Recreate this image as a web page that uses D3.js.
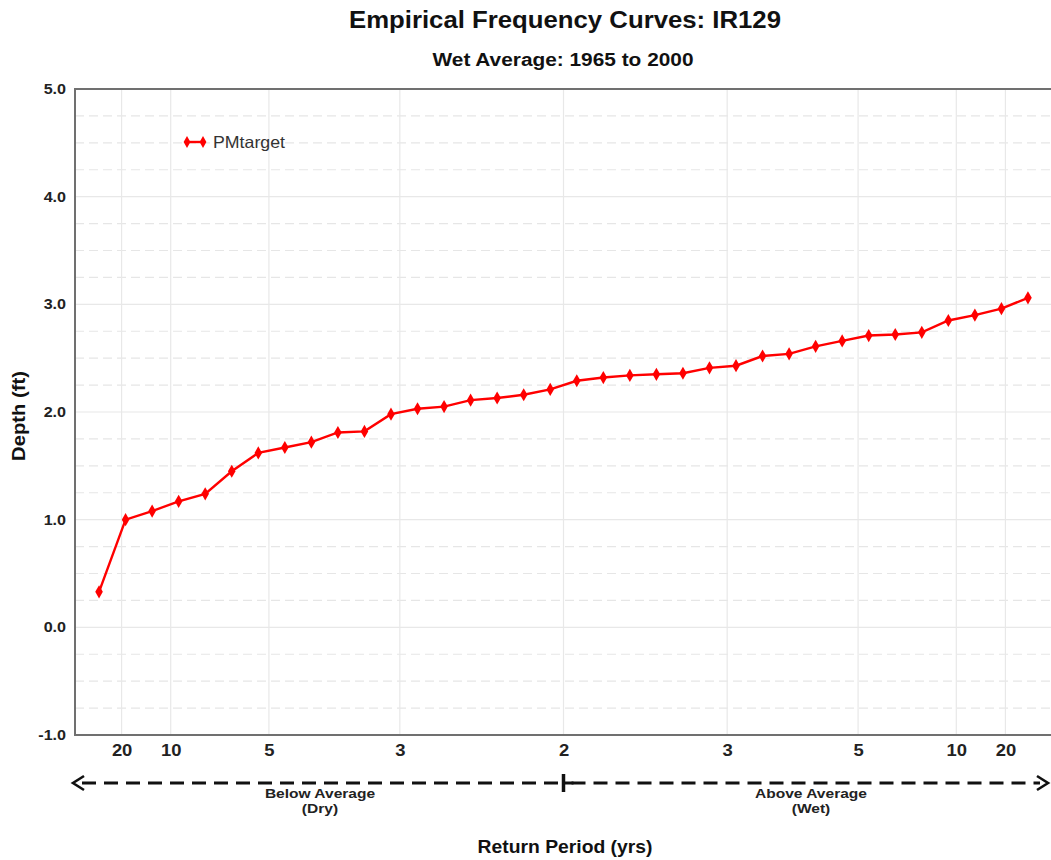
<!DOCTYPE html>
<html>
<head>
<meta charset="utf-8">
<script src="https://cdn.jsdelivr.net/npm/d3@7"></script>
<style>
  html, body { margin: 0; padding: 0; background: #fff; }
  svg { display: block; font-family: "Liberation Sans", Arial, sans-serif; }
</style>
</head>
<body>
<svg id="chart" width="1051" height="860"></svg>
<script>
// ---- data ----
const seriesName = "PMtarget";
const depthValues = [0.33, 1.00, 1.08, 1.17, 1.24, 1.45, 1.62, 1.67, 1.72, 1.81, 1.82, 1.98,
  2.03, 2.05, 2.11, 2.13, 2.16, 2.21, 2.29, 2.32, 2.34, 2.35, 2.36, 2.41,
  2.43, 2.52, 2.54, 2.61, 2.66, 2.71, 2.72, 2.74, 2.85, 2.90, 2.96, 3.06];
const returnTickProbs = [0.05, 0.10, 0.20, 1/3, 0.5, 2/3, 0.80, 0.90, 0.95];
const returnTickLabels = ["20", "10", "5", "3", "2", "3", "5", "10", "20"];
const yTicks = [-1, 0, 1, 2, 3, 4, 5];
const yMinorTicks = d3.range(-1, 5.001, 0.25);
const titleText = "Empirical Frequency Curves: IR129";
const subtitleText = "Wet Average: 1965 to 2000";
const yLabelText = "Depth (ft)";
const xLabelText = "Return Period (yrs)";
const dryText = ["Below Average", "(Dry)"];
const wetText = ["Above Average", "(Wet)"];

// ---- layout ----
const svg = d3.select("#chart");
const plotLeft = 75, plotTop = 89, plotBottom = 735, plotRight = 1060;
const n = depthValues.length;
const x = d3.scaleLinear().domain([0, 1]).range([72.5, 1054.5]);
const y = d3.scaleLinear().domain([-1, 5]).range([plotBottom, plotTop]);
const pos = i => (i + 1) / (n + 1);

// horizontally widen text glyphs (reference font renders wider than Arial)
function widen(sel, k) {
  sel.each(function () {
    const w = this.getComputedTextLength();
    d3.select(this).attr("textLength", w * k).attr("lengthAdjust", "spacingAndGlyphs");
  });
  return sel;
}

// grid
const grid = svg.append("g");
grid.selectAll(".minor").data(yMinorTicks.filter(v => Math.abs(v - Math.round(v)) > 1e-6))
  .enter().append("line")
  .attr("x1", plotLeft).attr("x2", plotRight)
  .attr("y1", d => y(d)).attr("y2", d => y(d))
  .attr("stroke", "#e6e6e6").attr("stroke-width", 1.2).attr("stroke-dasharray", "9,5");
grid.selectAll(".major").data(yTicks)
  .enter().append("line")
  .attr("x1", plotLeft).attr("x2", plotRight)
  .attr("y1", d => y(d)).attr("y2", d => y(d))
  .attr("stroke", "#e8e8e8").attr("stroke-width", 1.2);
grid.selectAll(".vgrid").data(returnTickProbs)
  .enter().append("line")
  .attr("x1", d => x(d)).attr("x2", d => x(d))
  .attr("y1", plotTop).attr("y2", plotBottom)
  .attr("stroke", "#e8e8e8").attr("stroke-width", 1.2);

// frame
svg.append("path")
  .attr("d", `M${plotRight},${plotTop}H${plotLeft}V${plotBottom}H${plotRight}`)
  .attr("fill", "none").attr("stroke", "#707070").attr("stroke-width", 2);

// y axis labels
const yAxis = d3.axisLeft(y).tickValues(yTicks).tickFormat(d => d.toFixed(1)).tickSize(0).tickPadding(9);
const yG = svg.append("g").attr("transform", `translate(${plotLeft},0)`).call(yAxis);
yG.select(".domain").remove();
widen(yG.selectAll("text").attr("font-size", 14).attr("font-weight", "bold")
  .attr("fill", "#222").attr("font-family", "Liberation Sans, Arial, sans-serif"), 1.15);

// x axis labels
const xAxis = d3.axisBottom(x).tickValues(returnTickProbs)
  .tickFormat((d, i) => returnTickLabels[i]).tickSize(0).tickPadding(10);
const xG = svg.append("g").attr("transform", `translate(0,${plotBottom})`).call(xAxis);
xG.select(".domain").remove();
widen(xG.selectAll("text").attr("font-size", 16).attr("fill", "#222")
  .attr("font-family", "Liberation Sans, Arial, sans-serif").attr("font-weight", "bold"), 1.15);

// series line
const line = d3.line().x((d, i) => x(pos(i))).y(d => y(d));
svg.append("path").datum(depthValues)
  .attr("d", line).attr("fill", "none").attr("stroke", "#ff0000").attr("stroke-width", 2.4);
const diamond = d3.symbol().type(d3.symbolDiamond).size(50);
svg.selectAll(".pt").data(depthValues).enter().append("path")
  .attr("d", diamond)
  .attr("transform", (d, i) => `translate(${x(pos(i))},${y(d)})`)
  .attr("fill", "#ff0000");

// legend
const lg = svg.append("g").attr("transform", "translate(187,142)");
lg.append("line").attr("x1", 0).attr("x2", 16).attr("stroke", "#ff0000").attr("stroke-width", 2.4);
lg.selectAll(".lm").data([0, 16]).enter().append("path").attr("d", d3.symbol().type(d3.symbolDiamond).size(40))
  .attr("transform", d => `translate(${d},0)`).attr("fill", "#ff0000");
lg.append("text").attr("x", 26).attr("y", 6).text(seriesName)
  .attr("font-size", 16.5).attr("fill", "#333").attr("textLength", 72).attr("lengthAdjust", "spacingAndGlyphs");

// titles
svg.append("text").attr("x", 565).attr("y", 28).attr("text-anchor", "middle")
  .attr("font-size", 23).attr("font-weight", "bold").attr("fill", "#111").text(titleText)
  .attr("textLength", 432).attr("lengthAdjust", "spacingAndGlyphs");
svg.append("text").attr("x", 563).attr("y", 66).attr("text-anchor", "middle")
  .attr("font-size", 18).attr("font-weight", "bold").attr("fill", "#111").text(subtitleText)
  .attr("textLength", 261).attr("lengthAdjust", "spacingAndGlyphs");
svg.append("text").attr("transform", "translate(25,416) rotate(-90)").attr("text-anchor", "middle")
  .attr("font-size", 18).attr("font-weight", "bold").attr("fill", "#111").text(yLabelText)
  .attr("textLength", 90).attr("lengthAdjust", "spacingAndGlyphs");
svg.append("text").attr("x", 565).attr("y", 853).attr("text-anchor", "middle")
  .attr("font-size", 18).attr("font-weight", "bold").attr("fill", "#111").text(xLabelText)
  .attr("textLength", 175).attr("lengthAdjust", "spacingAndGlyphs");

// dry/wet arrow
const arrowY = 783;
const mid = x(0.5);
const ag = svg.append("g").attr("stroke", "#111").attr("fill", "none");
ag.append("line").attr("x1", 82).attr("x2", mid).attr("y1", arrowY).attr("y2", arrowY)
  .attr("stroke-width", 3).attr("stroke-dasharray", "14,8");
ag.append("line").attr("x1", mid + 8).attr("x2", 1040).attr("y1", arrowY).attr("y2", arrowY)
  .attr("stroke-width", 3).attr("stroke-dasharray", "14,8");
ag.append("path").attr("d", `M84,${arrowY - 7}L73,${arrowY}L84,${arrowY + 7}`).attr("stroke-width", 2.6);
ag.append("path").attr("d", `M1037,${arrowY - 7}L1048,${arrowY}L1037,${arrowY + 7}`).attr("stroke-width", 2.6);
ag.append("line").attr("x1", mid).attr("x2", mid).attr("y1", arrowY - 9).attr("y2", arrowY + 9).attr("stroke-width", 3.5);
ag.append("line").attr("x1", mid).attr("x2", mid + 10).attr("y1", arrowY).attr("y2", arrowY).attr("stroke-width", 3);

function twoLine(cx, lines) {
  const t = svg.append("text").attr("text-anchor", "middle").attr("font-size", 13.5)
    .attr("font-weight", "bold").attr("fill", "#222");
  lines.forEach((s, i) => t.append("tspan").attr("x", cx).attr("y", 798 + i * 15).text(s));
  widen(t.selectAll("tspan"), 1.15);
}
twoLine(320, dryText);
twoLine(811, wetText);
</script>
</body>
</html>
